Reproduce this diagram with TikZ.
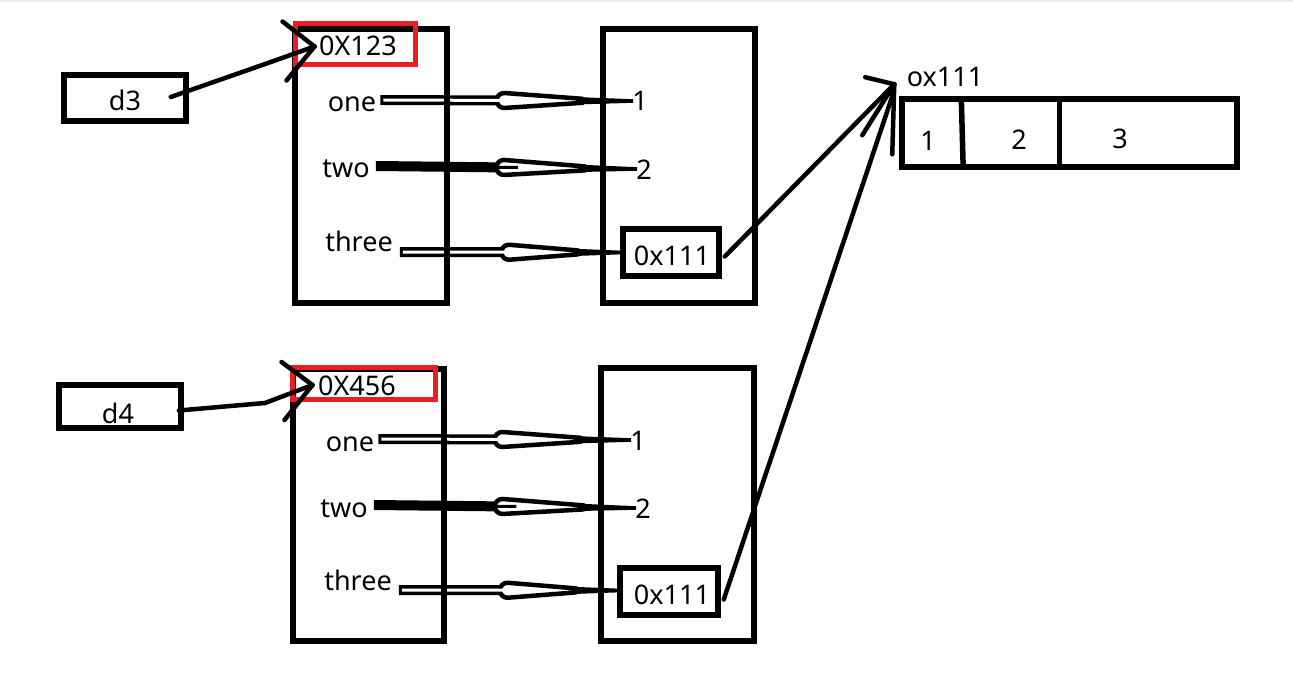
\documentclass[tikz,border=0pt]{standalone}
\usepackage{fontspec}
\setmainfont{Noto Sans}
\usetikzlibrary{calc}
\definecolor{pred}{RGB}{237,28,36}
\definecolor{topgray}{RGB}{240,240,240}
\newcommand\hlarrow[3]{%
  \coordinate (hm) at ($(#1)!0.49!(#2)$);
  \coordinate (hp) at ($(#1)!0.80!(#2)$);
  \draw[line width=10pt] (#1) -- ($(hm)+(4,0)$);
  \draw[line width=4.5pt, fill=white, line join=round] ($(hm)+(0,-7.5)$) -- ($(hp)+(0,-2)$) -- ($(hp)+(0,2)$) -- ($(hm)+(0,7.5)$) arc[start angle=90,end angle=270,radius=7.5] -- cycle;
  \draw[#3, line width=3pt] ($(#1)+(3,0)$) -- ($(hm)+(14,0)$);
  \fill ($(hp)+(0,-3.5)$) -- ($(#2)+(0,-1.8)$) -- ($(#2)+(0,1.8)$) -- ($(hp)+(0,3.5)$) -- cycle;
}
\begin{document}
\begin{tikzpicture}[x=1pt,y=-1pt,
  txt/.style={font=\fontsize{27}{32}\selectfont, inner sep=0pt},
  box/.style={draw, line width=5.5pt, inner sep=0pt},
  redbox/.style={draw=pred, line width=5pt, inner sep=0pt},
  link/.style={line width=4.5pt, line cap=round, line join=round}]
\useasboundingbox (0,0) rectangle (1293,679);
\fill[white] (0,0) rectangle (1293,679);
\fill[topgray] (0,0) rectangle (1293,2);

% ---------- labels (upper) ----------
\node[txt] (one1) at (352,104) {one};
\node[txt] (two1) at (346,169) {two};
\node[txt] (three1) at (359,241) {three};
\node[txt] (v11) at (640,101) {1};
\node[txt] (v21) at (644,170) {2};
\node[box, minimum width=96, minimum height=47] (v31) at (671,252.5) {};
\node[txt] (v31t) at (672,256) {0x111};

% ---------- labels (lower) ----------
\node[txt] (one2) at (350,444) {one};
\node[txt] (two2) at (344,509) {two};
\node[txt] (three2) at (358,580) {three};
\node[txt] (v12) at (638,441) {1};
\node[txt] (v22) at (643,509) {2};
\node[box, minimum width=98, minimum height=47] (v32) at (669,591.5) {};
\node[txt] (v32t) at (672,595) {0x111};

% ---------- hollow arrows ----------
\coordinate (s11) at ($(one1.east)+(4,-4)$);   \coordinate (e11) at ($(v11.west)+(1,0)$);
\coordinate (s21) at ($(two1.east)+(6,-3)$);   \coordinate (e21) at ($(v21.west)+(1,-1)$);
\coordinate (s31) at ($(three1.east)+(7,11)$); \coordinate (e31) at ($(v31.west)+(2,0)$);
\coordinate (s12) at ($(one2.east)+(4,-5)$);   \coordinate (e12) at ($(v12.west)+(1,-1)$);
\coordinate (s22) at ($(two2.east)+(6,-4)$);   \coordinate (e22) at ($(v22.west)+(1,-1)$);
\coordinate (s32) at ($(three2.east)+(7,10)$); \coordinate (e32) at ($(v32.west)+(3,-1)$);
\hlarrow{s11}{e11}{white}
\hlarrow{s21}{e21}{black}
\hlarrow{s31}{e31}{white}
\hlarrow{s12}{e12}{white}
\hlarrow{s22}{e22}{black}
\hlarrow{s32}{e32}{white}

% ---------- frames ----------
\node[box, minimum width=152, minimum height=274] (L1) at (371,166) {};
\node[box, minimum width=152, minimum height=274] (R1) at (679,166) {};
\node[box, minimum width=151, minimum height=272] (L2) at (368.5,505) {};
\node[box, minimum width=153, minimum height=273] (R2) at (677.5,504.5) {};

\node[redbox, minimum width=120, minimum height=41] (red1) at (355,44.5) {};
\node[txt] (t123) at (358,46) {0X123};
\node[redbox, minimum width=143, minimum height=32] (red2) at (363.5,383) {};
\node[txt] (t456) at (357,386) {0X456};

% ---------- d3 / d4 ----------
\node[box, minimum width=122, minimum height=46] (d3) at (125,98) {};
\node[txt] (d3t) at (125,100) {d3};
\node[box, minimum width=122, minimum height=43] (d4) at (120,406.5) {};
\node[txt] (d4t) at (118,413) {d4};

\coordinate (tip1) at ($(red1.west)+(22,2)$);
\draw[link] ($(d3.east)+(-18,-1)$) -- (268,63) -- (tip1);
\draw[link] (tip1) -- ++(-32,-25);
\draw[link] (tip1) -- ++(-28,34);

\coordinate (tip2) at ($(red2.west)+(23,2)$);
\draw[link] ($(d4.east)+(-5,4)$) -- (265,403) -- (tip2);
\draw[link] (tip2) -- ++(-31,-23);
\draw[link] (tip2) -- ++(-28,35);

% ---------- array ----------
\node[box, minimum width=335, minimum height=68] (arr) at (1069.5,133) {};
\draw[line width=5.5pt] ($(arr.north west)+(62,0)$) -- ($(arr.south west)+(64,0)$);
\draw[line width=5.5pt] ($(arr.north west)+(160,0)$) -- ($(arr.south west)+(160,0)$);
\node[txt] (c1) at (928,141) {1};
\node[txt] (c2) at (1019,140) {2};
\node[txt] (c3) at (1120,139) {3};
\node[txt] (ox) at (945,77) {ox111};

\coordinate (tip3) at ($(arr.north west)+(-5,-12)$);
\draw[link] ($(v31.east)+(3,4)$) -- (tip3);
\draw[link] ($(v32.east)+(3,8)$) -- ($(tip3)+(-2,12)$) -- (tip3);
\draw[link] (tip3) -- ++(-29,-7);
\draw[link] (tip3) -- ++(-32,51);
\draw[link] (tip3) -- ++(-2,70);
\end{tikzpicture}
\end{document}
